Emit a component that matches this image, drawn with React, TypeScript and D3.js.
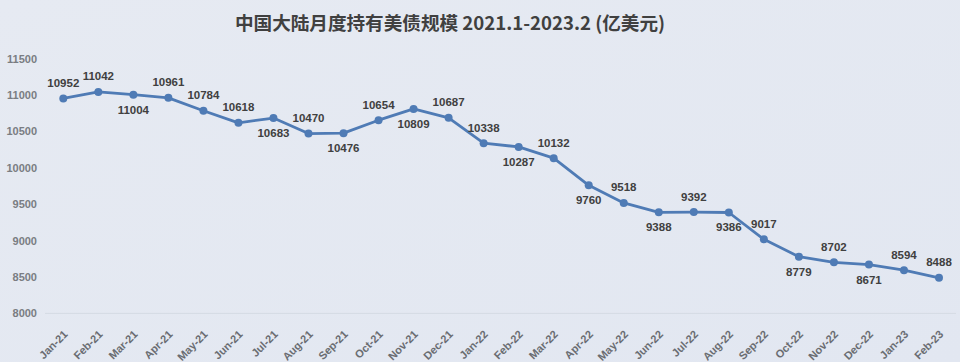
import React from "react";
import * as d3 from "d3";

const categories = [
  "Jan-21","Feb-21","Mar-21","Apr-21","May-21","Jun-21","Jul-21","Aug-21","Sep-21","Oct-21","Nov-21","Dec-21",
  "Jan-22","Feb-22","Mar-22","Apr-22","May-22","Jun-22","Jul-22","Aug-22","Sep-22","Oct-22","Nov-22","Dec-22",
  "Jan-23","Feb-23",
];
const holdings = [
  10952, 11042, 11004, 10961, 10784, 10618, 10683, 10470, 10476, 10654, 10809, 10687,
  10338, 10287, 10132, 9760, 9518, 9388, 9392, 9386, 9017, 8779, 8702, 8671,
  8594, 8488,
];
const yTicks = [8000, 8500, 9000, 9500, 10000, 10500, 11000, 11500];
// label placement relative to each point: "a" above, "b" below
const labelPlacement = [
  "a","a","b","a","a","a","b","a","b","a","b","a",
  "a","b","a","b","a","b","a","b","a","b","a","b",
  "a","a",
];
const title = "中国大陆月度持有美债规模 2021.1-2023.2 (亿美元)";

const W = 960;
const H = 362;

export default function App() {
  const x = d3.scalePoint<string>().domain(categories).range([63.3, 939]);
  const y = d3.scaleLinear().domain([8000, 11500]).range([313.4, 58.6]);
  const data = categories.map((c, i) => ({ c, v: holdings[i], p: labelPlacement[i] }));
  const line = d3
    .line<{ c: string; v: number }>()
    .x((d) => x(d.c) as number)
    .y((d) => y(d.v));

  const fontNum = "'Liberation Sans', Arial, sans-serif";
  return (
    <div style={{ position: "absolute", left: 0, top: 0, width: W, height: H }}>
      <svg width={W} height={H} style={{ display: "block" }}>
        <defs>
          <linearGradient id="bg" x1="0" y1="0" x2="1" y2="1">
            <stop offset="0%" stopColor="#e6eaf2" />
            <stop offset="100%" stopColor="#e2e7f1" />
          </linearGradient>
        </defs>
        <rect x={0} y={0} width={W} height={H} fill="url(#bg)" />
        <text
          x={450}
          y={30}
          textAnchor="middle"
          fontFamily="'Noto Sans CJK SC', sans-serif"
          fontWeight={700}
          fontSize={18.6}
          fill="#404040"
        >
          {title}
        </text>
        {/* baseline */}
        <line x1={45} x2={956} y1={y(8000)} y2={y(8000)} stroke="#d5dae3" strokeWidth={1} />
        {/* y tick labels */}
        {yTicks.map((t) => (
          <text
            key={t}
            x={37}
            y={y(t) + 4}
            textAnchor="end"
            fontFamily={fontNum}
            fontSize={11}
            fontWeight={700}
            fill="#7a7d82"
          >
            {t}
          </text>
        ))}
        {/* x tick labels */}
        {categories.map((c) => {
          const px = (x(c) as number) + 5;
          const py = 335;
          return (
            <text
              key={c}
              x={px}
              y={py}
              textAnchor="end"
              transform={`rotate(-45 ${px} ${py})`}
              fontFamily={fontNum}
              fontSize={11}
              fontWeight={700}
              fill="#6a6d72"
            >
              {c}
            </text>
          );
        })}
        <path d={line(data) as string} fill="none" stroke="#4f7bb5" strokeWidth={2.8} strokeLinejoin="round" />
        {data.map((d) => (
          <circle key={d.c} cx={x(d.c) as number} cy={y(d.v)} r={4} fill="#4f7bb5" />
        ))}
        {data.map((d) => {
          const cx = x(d.c) as number;
          const cy = y(d.v);
          const ty = d.p === "a" ? cy - 11.5 : cy + 19;
          return (
            <text
              key={"l" + d.c}
              x={cx}
              y={ty}
              textAnchor="middle"
              fontFamily={fontNum}
              fontSize={11.5}
              fontWeight={700}
              fill="#404040"
            >
              {d.v}
            </text>
          );
        })}
      </svg>
    </div>
  );
}
